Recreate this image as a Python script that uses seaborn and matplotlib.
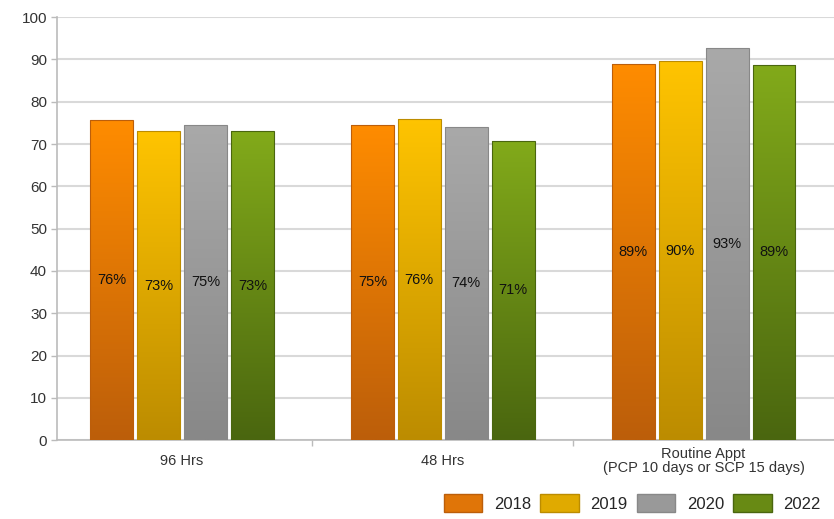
import numpy as np
import pandas as pd
import matplotlib
matplotlib.use("Agg")
import matplotlib.pyplot as plt
import seaborn as sns
from matplotlib.colors import LinearSegmentedColormap
from matplotlib.patches import Patch

categories = ["96 Hrs", "48 Hrs", "Routine Appt\n(PCP 10 days or SCP 15 days)"]
years = ["2018", "2019", "2020", "2022"]
v2018 = [75.6, 74.6, 89.0]
v2019 = [73.0, 75.9, 89.6]
v2020 = [74.6, 74.1, 92.8]
v2022 = [73.0, 70.8, 88.8]
yticks = [0, 10, 20, 30, 40, 50, 60, 70, 80, 90, 100]

top_cols = ["#FF8C00", "#FFC400", "#A9A9A9", "#82AA1A"]
bot_cols = ["#BC5E0A", "#BC8C00", "#888888", "#4A660F"]
mid_cols = ["#E07508", "#E0AA00", "#999999", "#688A14"]

rows = []
for y, vals in zip(years, [v2018, v2019, v2020, v2022]):
    for c, v in zip(categories, vals):
        rows.append({"cat": c, "year": y, "val": v})
df = pd.DataFrame(rows)

sns.set_theme(style="white")
plt.rcParams["font.family"] = ["Liberation Sans", "DejaVu Sans"]

fig = plt.figure(figsize=(8.34, 5.19), dpi=100)
ax = fig.add_axes([0.068, 0.152, 0.932, 0.815])

sns.barplot(data=df, x="cat", y="val", hue="year", order=categories,
            hue_order=years, palette=mid_cols, width=0.72, gap=0.085,
            legend=False, ax=ax, zorder=3)

# gradient fills
for i, cont in enumerate(ax.containers):
    cmap = LinearSegmentedColormap.from_list("g", [bot_cols[i], top_cols[i]])
    for bar in cont:
        x0, y0 = bar.get_x(), bar.get_y()
        w, h = bar.get_width(), bar.get_height()
        grad = np.linspace(0, 1, 256).reshape(-1, 1)
        im = ax.imshow(grad, extent=[x0, x0 + w, y0, y0 + h], origin="lower",
                       cmap=cmap, aspect="auto", zorder=3)
        im.set_clip_path(bar)
        bar.set_facecolor("none")
        bar.set_edgecolor(bot_cols[i])
        bar.set_linewidth(0.8)
        bar.set_zorder(4)
        ax.text(x0 + w / 2, h / 2, f"{round(h)}%", ha="center", va="center",
                fontsize=10.5, color="#111111", zorder=5)
ax.set_xlim(-0.48, 2.5)
ax.set_ylim(0, 100)

ax.set_yticks(yticks)
ax.set_yticklabels([str(t) for t in yticks], fontsize=11, color="#333333")
ax.yaxis.grid(True, color="#D9D9D9", linewidth=1.5, zorder=0)
ax.set_axisbelow(True)
ax.tick_params(axis="y", length=4, color="#BBBBBB", width=1, pad=3, left=True)
ax.set_xticks([0, 1, 2])
ax.set_xticklabels(categories, fontsize=10.5, color="#333333", linespacing=1.0,
                   va="center")
ax.tick_params(axis="x", length=0, pad=15)
ax.set_xticks([0.5, 1.5], minor=True)
ax.tick_params(axis="x", which="minor", length=4, color="#BBBBBB", bottom=True)
ax.set_xlabel("")
ax.set_ylabel("")
for s in ["top", "right"]:
    ax.spines[s].set_visible(False)
for s in ["left", "bottom"]:
    ax.spines[s].set_color("#BBBBBB")
    ax.spines[s].set_linewidth(1.2)

handles = [Patch(facecolor=mid_cols[i], edgecolor=bot_cols[i], label=years[i]) for i in range(4)]
fig.legend(handles=handles, loc="lower right", bbox_to_anchor=(1.0, -0.012), ncol=4,
           frameon=False, fontsize=12, handlelength=2.3, handleheight=1.25,
           columnspacing=0.55, handletextpad=0.7, borderpad=0.3)

fig.savefig("out.png", dpi=100)
